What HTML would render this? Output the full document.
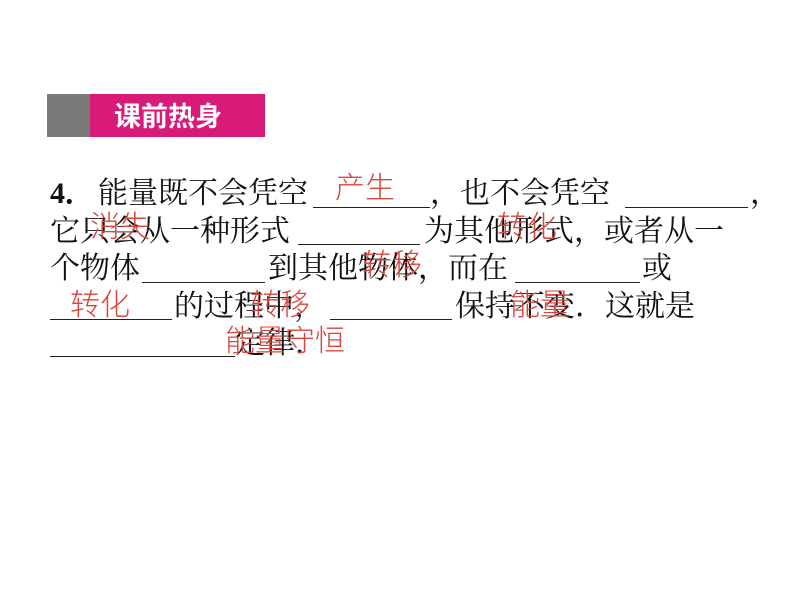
<!DOCTYPE html>
<html><head><meta charset="utf-8"><style>
body{margin:0;width:800px;height:600px;background:#fff;position:relative;overflow:hidden;font-family:"Liberation Sans","Noto Sans CJK SC",sans-serif;}
.t{position:absolute;font-size:30px;line-height:34px;color:#111;white-space:nowrap;font-family:"Liberation Serif","Noto Serif CJK SC","Noto Sans CJK SC",serif;}
.u{position:absolute;height:0;border-bottom:1.5px solid #222;}
.r{position:absolute;font-size:30px;line-height:34px;color:#d9443c;white-space:nowrap;font-weight:300;font-family:"Noto Sans CJK SC",sans-serif;}
</style></head><body>
<div style="position:absolute;left:47px;top:94px;width:43px;height:43px;background:#7a7a7a"></div>
<div style="position:absolute;left:90px;top:94px;width:175px;height:43px;background:#d81b78"></div>
<div style="position:absolute;left:114px;top:96px;font-size:27px;line-height:38px;color:#fff;font-weight:bold;font-family:'Noto Sans CJK SC',sans-serif;">课前热身</div>

<div class="t" style="left:50px;top:177px;font-weight:bold">4．</div>
<div class="t" style="left:98px;top:177px">能量既不会凭空</div>
<div class="u" style="left:313px;width:117px;top:207px"></div>
<div class="t" style="left:430px;top:177px">，也不会凭空</div>
<div class="u" style="left:625px;width:123px;top:207px"></div>
<div class="t" style="left:750px;top:177px">，</div>

<div class="t" style="left:50px;top:215px">它只会从一种形式</div>
<div class="u" style="left:298px;width:122px;top:244px"></div>
<div class="t" style="left:424px;top:215px">为其他形式，或者从一</div>

<div class="t" style="left:50px;top:252px">个物体</div>
<div class="u" style="left:142px;width:123px;top:282px"></div>
<div class="t" style="left:268px;top:252px">到其他物体，而在</div>
<div class="u" style="left:515px;width:125px;top:282px"></div>
<div class="t" style="left:642px;top:252px">或</div>

<div class="u" style="left:50px;width:122px;top:319px"></div>
<div class="t" style="left:174px;top:290px">的过程中，</div>
<div class="u" style="left:330px;width:122px;top:319px"></div>
<div class="t" style="left:455px;top:290px">保持不变．这就是</div>

<div class="u" style="left:50px;width:185px;top:356px"></div>
<div class="t" style="left:235px;top:327px">定律．</div>

<div class="r" style="left:335px;top:168px">产生</div>
<div class="r" style="left:90px;top:207px">消失</div>
<div class="r" style="left:497px;top:207px">转化</div>
<div class="r" style="left:362px;top:245px">转移</div>
<div class="r" style="left:70px;top:285px">转化</div>
<div class="r" style="left:250px;top:285px">转移</div>
<div class="r" style="left:510px;top:285px">能量</div>
<div class="r" style="left:225px;top:321px">能量守恒</div>
</body></html>
